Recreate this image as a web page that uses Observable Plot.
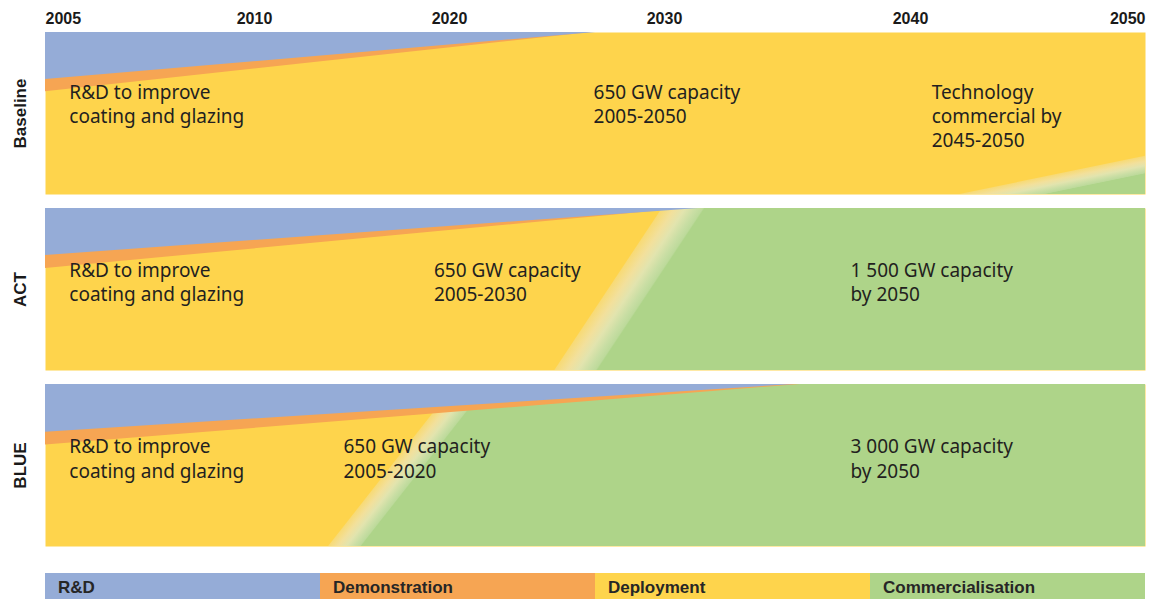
<!DOCTYPE html>
<html>
<head>
<meta charset="utf-8">
<script src="https://cdn.jsdelivr.net/npm/d3@7"></script>
<script src="https://cdn.jsdelivr.net/npm/@observablehq/plot@0.6"></script>
<style>
  html, body { margin: 0; padding: 0; background: #fff; overflow: hidden; }
  #chart svg { display: block; }
  #legend { display: flex; margin-left: 45px; width: 1100px; height: 26px; margin-top: 13px; }
  #legend div { flex: 1; box-sizing: border-box; padding-left: 13px; padding-top: 4px;
    display: flex; align-items: center; color: #262626;
    font: bold 17px "Liberation Sans", Arial, sans-serif; }
</style>
</head>
<body>
<div id="chart"></div>
<div id="legend"></div>
<script>
// ---------- data ----------
const scenarios = ["Baseline", "ACT", "BLUE"];
const yearTicks = [2005, 2010, 2020, 2030, 2040, 2050];
const phases = ["R&D", "Demonstration", "Deployment", "Commercialisation"];
const phaseColors = ["#95acd7", "#f6a553", "#fed44c", "#aed489"];

// R&D band: depth (share of panel height from top) in 2005, and year its lower edge reaches the top
const rdDepth2005 = [0.29, 0.29, 0.295];
const rdEndYear = [2026.8, 2031.4, 2035.3];
// Demonstration band: lower edge depth in 2005 and year it reaches the top
const demoDepth2005 = [0.366, 0.37, 0.374];
const demoEndYear = [2026.6, 2030.8, 2035.5];
// Deployment -> commercialisation front
const frontTopYear = [2050, 2029.9, 2020.3];
const frontTopDepth = [0.764, 0, 0];
const frontBottomYear = [2042.1, 2024.9, 2013.8];
const commBottomYear = [2045.8, 2026.9, 2015.5];

// annotations
const noteScenario = ["Baseline", "Baseline", "Baseline", "ACT", "ACT", "ACT", "BLUE", "BLUE", "BLUE"];
const noteYear = [2005.57, 2026.7, 2040.9, 2005.57, 2019.2, 2037.56, 2005.57, 2014.56, 2037.56];
const noteDepth = [0.305, 0.305, 0.305, 0.315, 0.315, 0.315, 0.32, 0.32, 0.32];
const noteText = [
  "R&D to improve\ncoating and glazing", "650 GW capacity\n2005-2050", "Technology\ncommercial by\n2045-2050",
  "R&D to improve\ncoating and glazing", "650 GW capacity\n2005-2030", "1 500 GW capacity\nby 2050",
  "R&D to improve\ncoating and glazing", "650 GW capacity\n2005-2020", "3 000 GW capacity\nby 2050"
];

// ---------- tables built from the arrays ----------
const firstYear = yearTicks[0], lastYear = yearTicks[yearTicks.length - 1];
const rdRows = scenarios.flatMap((s, i) => [
  {scenario: s, year: firstYear, depth: rdDepth2005[i]},
  {scenario: s, year: rdEndYear[i], depth: 0}
]);
const demoRows = scenarios.flatMap((s, i) => [
  {scenario: s, year: firstYear, depth: demoDepth2005[i]},
  {scenario: s, year: demoEndYear[i], depth: 0}
]);
const commRows = scenarios.flatMap((s, i) => [
  {scenario: s, depth: frontTopDepth[i], x1: frontTopYear[i], x2: lastYear, g: commBottomYear[i]},
  {scenario: s, depth: 1, x1: frontBottomYear[i], x2: lastYear, g: commBottomYear[i]}
]);
const notes = noteText.map((t, i) => ({scenario: noteScenario[i], year: noteYear[i], depth: noteDepth[i], text: t}));

// gradient across the deployment -> commercialisation front
let gradCount = 0;
function frontGradient(index, scales, values, dimensions, context, next) {
  const g = next(index, scales, values, dimensions, context);
  if (!g || !index.length) return g;
  const rows = Array.from(index, (i) => commRows[i]);
  const top = rows.find((r) => r.depth < 1), bot = rows.find((r) => r.depth === 1);
  if (!top || !bot) return g;
  const ax = scales.x(top.x1), ay = scales.y(top.depth);
  const bx = scales.x(bot.x1), by = scales.y(1);
  let dx = bx - ax, dy = by - ay;
  const L = Math.hypot(dx, dy); dx /= L; dy /= L;
  let nx = -dy, ny = dx;
  const cx = scales.x(bot.g), cy = by;
  let t = (cx - bx) * nx + (cy - by) * ny;
  if (t < 0) { nx = -nx; ny = -ny; t = -t; }
  const ns = "http://www.w3.org/2000/svg";
  const id = "front-grad-" + (gradCount++);
  const defs = document.createElementNS(ns, "defs");
  const lg = document.createElementNS(ns, "linearGradient");
  lg.setAttribute("id", id);
  lg.setAttribute("gradientUnits", "userSpaceOnUse");
  lg.setAttribute("x1", bx); lg.setAttribute("y1", by);
  lg.setAttribute("x2", bx + nx * t); lg.setAttribute("y2", by + ny * t);
  [[0, "#f8da74"], [0.3, "#f2e09c"], [0.55, "#e2e4ae"], [0.8, "#c9dea4"], [0.96, "#bdda9b"], [1, phaseColors[3]]]
    .forEach(([o, c]) => {
      const st = document.createElementNS(ns, "stop");
      st.setAttribute("offset", o); st.setAttribute("stop-color", c);
      lg.appendChild(st);
    });
  defs.appendChild(lg);
  g.insertBefore(defs, g.firstChild);
  g.querySelectorAll("path").forEach((p) => p.setAttribute("fill", `url(#${id})`));
  return g;
}

const textFont = "'Noto Sans', 'Open Sans', sans-serif";
const boldFont = "'Liberation Sans', Arial, sans-serif";

const chart = Plot.plot({
  width: 1152,
  height: 560,
  marginTop: 32,
  marginBottom: 14,
  marginLeft: 45,
  marginRight: 7,
  x: {type: "linear", domain: yearTicks, range: [45, 254, 449, 664, 910, 1145]},
  y: {domain: [0, 1], reverse: true, axis: null},
  fy: {domain: scenarios, paddingInner: 0.08, paddingOuter: 0, axis: null, label: null},
  marks: [
    Plot.frame({fill: phaseColors[2], stroke: "none"}),
    Plot.areaX(commRows, {y: "depth", x1: "x1", x2: "x2", fy: "scenario", fill: phaseColors[3], render: frontGradient}),
    Plot.areaY(demoRows, {x: "year", y1: 0, y2: "depth", fy: "scenario", fill: phaseColors[1]}),
    Plot.areaY(rdRows, {x: "year", y1: 0, y2: "depth", fy: "scenario", fill: phaseColors[0]}),
    Plot.text(notes, {x: "year", y: "depth", fy: "scenario", text: "text", textAnchor: "start", lineAnchor: "top",
      fontSize: 19, lineHeight: 1.27, fill: "#231f20", fontFamily: textFont}),
    Plot.text(scenarios, {fy: (d) => d, text: (d) => d, frameAnchor: "left", textAnchor: "middle", rotate: -90, dx: -25,
      fontSize: 17, fontWeight: "bold", fill: "#1a1a1a", fontFamily: boldFont}),
    Plot.axisX([yearTicks[0]], {anchor: "top", tickSize: 0, tickPadding: 9, textAnchor: "start", label: null,
      tickFormat: (d) => String(d), fontSize: 16, fontWeight: "bold", fontFamily: boldFont, fill: "#1a1a1a"}),
    Plot.axisX(yearTicks.slice(1, -1), {anchor: "top", tickSize: 0, tickPadding: 9, textAnchor: "middle", label: null,
      tickFormat: (d) => String(d), fontSize: 16, fontWeight: "bold", fontFamily: boldFont, fill: "#1a1a1a"}),
    Plot.axisX([yearTicks[yearTicks.length - 1]], {anchor: "top", tickSize: 0, tickPadding: 9, textAnchor: "end", label: null,
      tickFormat: (d) => String(d), fontSize: 16, fontWeight: "bold", fontFamily: boldFont, fill: "#1a1a1a"})
  ]
});
document.getElementById("chart").appendChild(chart);

const legend = document.getElementById("legend");
phases.forEach((p, i) => {
  const d = document.createElement("div");
  d.textContent = p;
  d.style.background = phaseColors[i];
  legend.appendChild(d);
});
</script>
</body>
</html>
